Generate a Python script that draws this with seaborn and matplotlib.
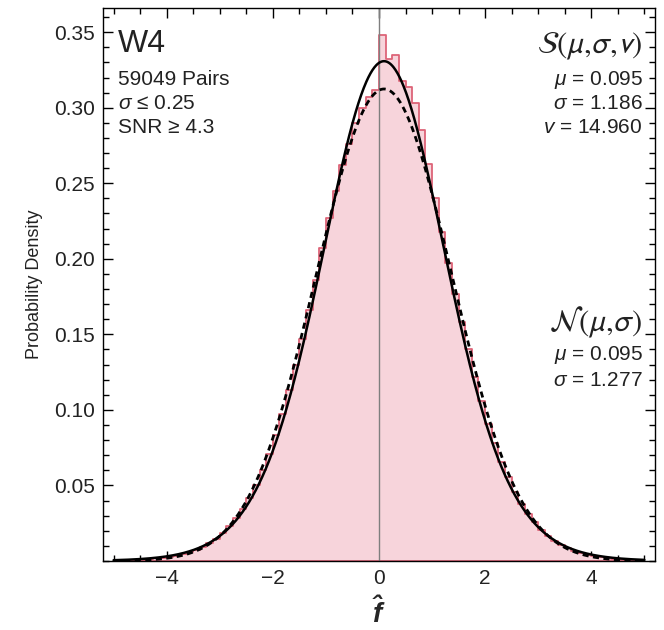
import math
import numpy as np
import pandas as pd
import matplotlib
matplotlib.use("Agg")
import matplotlib.pyplot as plt
from matplotlib.ticker import MultipleLocator, FixedLocator
import seaborn as sns

# Histogram of f-hat: 80 bins of width 0.125 spanning [-5, 5]
bin_edges = [-5.0 + 0.125 * k for k in range(81)]
density = [
    0.0004, 0.0005, 0.0006, 0.0008, 0.0010, 0.0013, 0.0017, 0.0022,
    0.0028, 0.0036, 0.0046, 0.0058, 0.0073, 0.0093, 0.0118, 0.0148,
    0.0186, 0.0232, 0.0285, 0.0345, 0.0417, 0.0500, 0.0600, 0.0710,
    0.0834, 0.0975, 0.1132, 0.1295, 0.1470, 0.1660, 0.1860, 0.2070,
    0.2270, 0.2450, 0.2620, 0.2760, 0.2900, 0.3000, 0.3070, 0.3120,
    0.3480, 0.3320, 0.3350, 0.3180, 0.3140, 0.3030, 0.2850, 0.2630,
    0.2400, 0.2180, 0.1970, 0.1770, 0.1580, 0.1400, 0.1220, 0.1060,
    0.0910, 0.0780, 0.0655, 0.0555, 0.0458, 0.0380, 0.0311, 0.0257,
    0.0206, 0.0168, 0.0133, 0.0107, 0.0084, 0.0067, 0.0052, 0.0041,
    0.0032, 0.0025, 0.0020, 0.0016, 0.0012, 0.0010, 0.0008, 0.0006,
]

# Fitted model parameters
t_mu, t_sigma, t_nu = 0.095, 1.186, 14.960
n_mu, n_sigma = 0.095, 1.277
n_pairs = 59049

x_ticks = [-4, -2, 0, 2, 4]
y_ticks = [0.05, 0.10, 0.15, 0.20, 0.25, 0.30, 0.35]

sns.set_style("ticks")
plt.rcParams["font.family"] = ["Liberation Sans", "DejaVu Sans"]
plt.rcParams["mathtext.fontset"] = "custom"
plt.rcParams["mathtext.rm"] = "Liberation Sans"
plt.rcParams["mathtext.it"] = "Liberation Sans:italic"
plt.rcParams["mathtext.bf"] = "Liberation Sans:bold:italic"

fig = plt.figure(figsize=(6.64, 6.30), dpi=100)
ax = fig.add_axes([0.1551, 0.1095, 0.8313, 0.8778])

centers = [0.5 * (bin_edges[k] + bin_edges[k + 1]) for k in range(len(density))]
hist_df = pd.DataFrame({"f": centers, "w": density})
sns.histplot(data=hist_df, x="f", weights="w", bins=bin_edges, stat="count",
             element="step", fill=True, facecolor="#F7D4DB",
             edgecolor="#DD6478", linewidth=1.3, alpha=1.0, ax=ax)

# Fitted densities
xs = np.linspace(-5, 5, 801)
z_t = (xs - t_mu) / t_sigma
c_t = math.gamma((t_nu + 1) / 2) / (math.gamma(t_nu / 2) * math.sqrt(t_nu * math.pi) * t_sigma)
pdf_t = c_t * (1 + z_t ** 2 / t_nu) ** (-(t_nu + 1) / 2)
pdf_n = np.exp(-0.5 * ((xs - n_mu) / n_sigma) ** 2) / (n_sigma * math.sqrt(2 * math.pi))
curves = pd.DataFrame({"x": xs, "t": pdf_t, "n": pdf_n})
sns.lineplot(data=curves, x="x", y="t", color="black", linewidth=1.8, ax=ax)
sns.lineplot(data=curves, x="x", y="n", color="black", linewidth=2.0,
             linestyle=(0, (2.2, 1.6)), ax=ax)

ax.axvline(0, color="#7f7f7f", linewidth=1.0, zorder=1.5)

ax.set_xlim(-5.2, 5.2)
ax.set_ylim(0, 0.366)
ax.xaxis.set_major_locator(FixedLocator(x_ticks))
ax.xaxis.set_minor_locator(MultipleLocator(0.5))
ax.yaxis.set_major_locator(FixedLocator(y_ticks))
ax.yaxis.set_minor_locator(MultipleLocator(0.01))
ax.set_xticklabels(["\u2212" + str(-v) if v < 0 else str(v) for v in x_ticks])
ax.set_yticklabels([f"{v:.2f}" for v in y_ticks])
ax.tick_params(which="both", direction="in", top=True, right=True,
               labelsize=15, labelcolor="#222222", color="black", width=1.0)
ax.tick_params(which="major", length=7, pad=6)
ax.tick_params(which="minor", length=4)
for s in ax.spines.values():
    s.set_linewidth(1.0)
    s.set_color("black")

ax.set_xlabel(r"$\mathbf{\hat{f}}$", fontsize=20, labelpad=6)
ax.set_ylabel("Probability Density", fontsize=13, labelpad=8, color="#222222")

tr = ax.transAxes
txt = "#222222"
ax.text(0.027, 0.935, "W4", transform=tr, fontsize=23, va="center", ha="left", color=txt)
ax.text(0.027, 0.870, f"{n_pairs} Pairs", transform=tr, fontsize=15, va="center", ha="left", color=txt)
ax.text(0.027, 0.827, r"$\sigma$ " + "\u2264 0.25",
        transform=tr, fontsize=15, va="center", ha="left", color=txt)
ax.text(0.027, 0.784, "SNR \u2265 4.3", transform=tr, fontsize=15, va="center", ha="left", color=txt)

ax.text(0.978, 0.930, r"$\mathcal{S}(\mu{,}\sigma{,}v)$", transform=tr, fontsize=22,
        va="center", ha="right", math_fontfamily="stixsans", color=txt)
ax.text(0.978, 0.870, r"$\mu$ = " + f"{t_mu:.3f}", transform=tr, fontsize=15, va="center", ha="right", color=txt)
ax.text(0.978, 0.827, r"$\sigma$ = " + f"{t_sigma:.3f}", transform=tr, fontsize=15, va="center", ha="right", color=txt)
ax.text(0.978, 0.784, r"$v$ = " + f"{t_nu:.3f}", transform=tr, fontsize=15, va="center", ha="right", color=txt)

ax.text(0.978, 0.432, r"$\mathcal{N}(\mu{,}\sigma)$", transform=tr, fontsize=22,
        va="center", ha="right", math_fontfamily="stixsans", color=txt)
ax.text(0.978, 0.372, r"$\mu$ = " + f"{n_mu:.3f}", transform=tr, fontsize=15, va="center", ha="right", color=txt)
ax.text(0.978, 0.326, r"$\sigma$ = " + f"{n_sigma:.3f}", transform=tr, fontsize=15, va="center", ha="right", color=txt)

fig.savefig("out.png", dpi=100)
